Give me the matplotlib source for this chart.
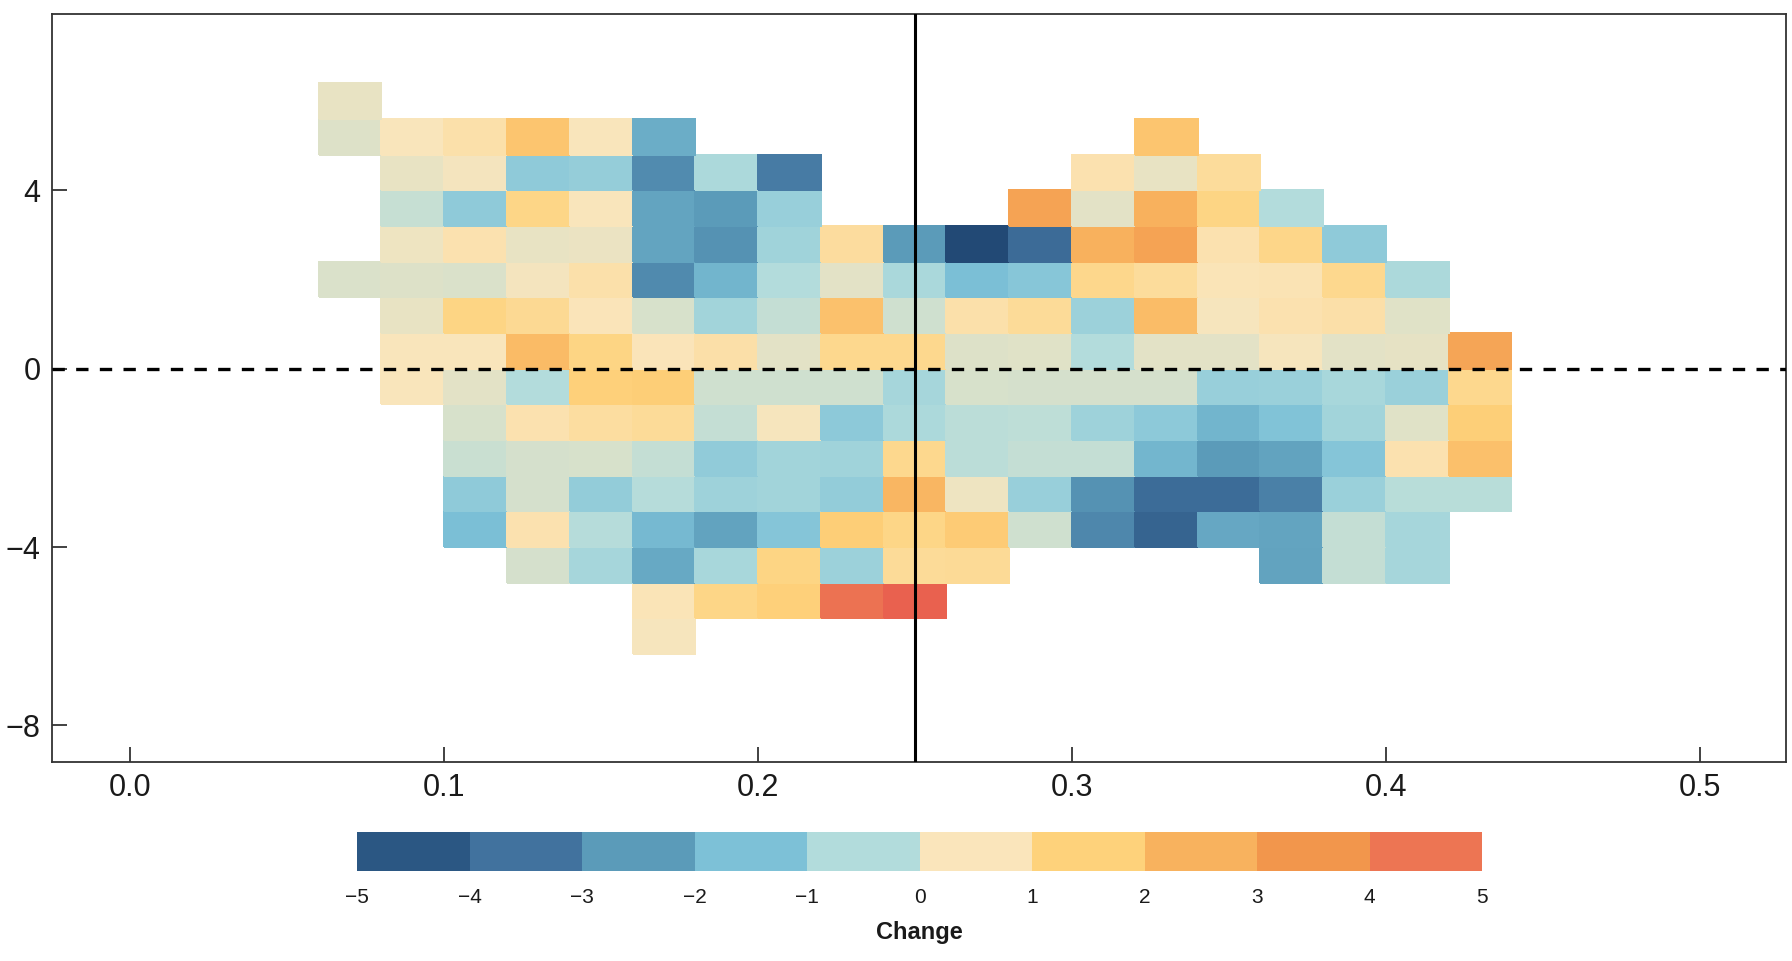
import numpy as np
import matplotlib
matplotlib.use("Agg")
import matplotlib.pyplot as plt
from matplotlib.colors import LinearSegmentedColormap, ListedColormap, BoundaryNorm, Normalize
from matplotlib.cm import ScalarMappable

plt.rcParams['font.family'] = ['Liberation Sans', 'DejaVu Sans']

# ---------------- data ----------------
# bin edges
x_edges = np.round(np.arange(0.06, 0.4401, 0.02), 2)   # 19 columns, 0.06 .. 0.44
y_edges = np.round(np.arange(-6.4, 6.401, 0.8), 2)     # 16 rows, -6.4 .. 6.4

N = None
# rows listed from top (5.6..6.4) to bottom (-6.4..-5.6); columns 0.06 .. 0.42
row_5p6 = [0.26, N, N, N, N, N, N, N, N, N, N, N, N, N, N, N, N, N, N]
row_4p8 = [0.1, 0.5, 0.77, 1.9, 0.5, -2.03, N, N, N, N, N, N, N, 1.9, N, N, N, N, N]
row_4p0 = [N, 0.25, 0.4, -1.16, -1.03, -2.88, -0.61, -3.27, N, N, N, N, 0.7, 0.25, 0.98, N, N, N, N]
row_3p2 = [N, -0.22, -1.16, 1.3, 0.5, -2.26, -2.5, -0.99, N, N, N, 3.04, 0.19, 2.5, 1.33, -0.5, N, N, N]
row_2p4 = [N, 0.32, 0.7, 0.25, 0.31, -2.26, -2.73, -0.84, 0.95, -2.5, -4.9, -3.73, 2.5, 3.04, 0.7, 1.28, -1.16, N, N]
row_1p6 = [0.04, 0.08, 0.04, 0.4, 0.77, -2.92, -1.82, -0.5, 0.19, -0.65, -1.54, -1.31, 1.23, 1.0, 0.58, 0.61, 1.19, -0.61, N]
row_0p8 = [N, 0.25, 1.34, 1.13, 0.53, 0.03, -0.82, -0.25, 2.03, -0.08, 0.77, 1.03, -0.92, 2.16, 0.44, 0.7, 0.8, 0.14, N]
row_0p0 = [N, 0.5, 0.5, 2.22, 1.34, 0.53, 0.8, 0.17, 1.19, 1.19, 0.08, 0.15, -0.5, 0.19, 0.19, 0.46, 0.19, 0.22, 2.96]
row_m0p8 = [N, 0.5, 0.18, -0.5, 1.55, 1.63, -0.1, -0.1, -0.1, -0.71, 0.03, -0.01, -0.01, -0.01, -0.99, -0.95, -0.69, -0.97, 1.19]
row_m1p6 = [N, N, 0.03, 0.67, 0.92, 1.05, -0.24, 0.44, -1.18, -0.61, -0.36, -0.33, -0.86, -1.18, -1.82, -1.44, -0.79, 0.14, 1.59]
row_m2p4 = [N, N, -0.17, -0.01, 0.0, -0.24, -1.1, -0.79, -0.84, 1.19, -0.36, -0.24, -0.24, -1.79, -2.5, -2.29, -1.33, 0.7, 2.06]
row_m3p2 = [N, N, -1.16, -0.01, -1.07, -0.44, -0.86, -0.79, -1.08, 2.38, 0.32, -0.99, -2.73, -3.68, -3.68, -3.15, -0.94, -0.42, -0.42]
row_m4p0 = [N, N, -1.54, 0.67, -0.44, -1.71, -2.29, -1.33, 1.63, 1.31, 1.69, -0.1, -3.0, -4.0, -2.18, -2.24, -0.24, -0.73, N]
row_m4p8 = [N, N, N, -0.01, -0.71, -2.12, -0.69, 1.33, -0.92, 1.03, 1.08, N, N, N, N, -2.29, -0.24, -0.73, N]
row_m5p6 = [N, N, N, N, N, 0.55, 1.31, 1.56, 4.55, 4.9, N, N, N, N, N, N, N, N, N]
row_m6p4 = [N, N, N, N, N, 0.45, N, N, N, N, N, N, N, N, N, N, N, N, N]

rows_top_down = [row_5p6, row_4p8, row_4p0, row_3p2, row_2p4, row_1p6, row_0p8, row_0p0,
                 row_m0p8, row_m1p6, row_m2p4, row_m3p2, row_m4p0, row_m4p8, row_m5p6, row_m6p4]

x_ticks = [0.0, 0.1, 0.2, 0.3, 0.4, 0.5]
y_ticks = [-8, -4, 0, 4]
vline_x = 0.25
hline_y = 0.0

cb_bounds = [-5, -4, -3, -2, -1, 0, 1, 2, 3, 4, 5]
cb_colors = ['#2b5783', '#41729e', '#5b9bb9', '#7dc1d7', '#b2dcdc',
             '#fae5bb', '#fed27b', '#f8b25e', '#f2964c', '#ed7553']
grad_pos = [-5, -4.5, -3.5, -2.5, -1.5, -0.5, 0.5, 1.5, 2.5, 3.5, 4.5, 5]
grad_cols = ['#204672'] + cb_colors + ['#e85d4e']
cb_label = 'Change'

# ---------------- plot ----------------
Z = np.array([[np.nan if v is None else v for v in r] for r in rows_top_down[::-1]], dtype=float)
Z = np.ma.masked_invalid(Z)

cmap = LinearSegmentedColormap.from_list(
    'chg', [((p + 5) / 10.0, c) for p, c in zip(grad_pos, grad_cols)])

fig = plt.figure(figsize=(17.92, 9.61), dpi=100)
ax = fig.add_axes([0.0289, 0.2071, 0.9678, 0.7783])

ax.pcolormesh(x_edges, y_edges, Z, cmap=cmap, norm=Normalize(-5, 5),
              shading='flat', edgecolors='face', linewidth=0.3)

ax.axvline(vline_x, color='black', lw=2.2, zorder=3)
ax.axhline(hline_y, color='black', lw=2.4, linestyle=(0, (3.7, 3.4)), zorder=3)

ax.set_xlim(-0.025, 0.5275)
ax.set_ylim(-8.82, 7.95)
ax.set_xticks(x_ticks)
ax.set_yticks(y_ticks)
for s in ax.spines.values():
    s.set_color('#333333')
    s.set_linewidth(1.3)
ax.tick_params(axis='both', direction='in', length=10.5, width=1.3, color='#333333',
               labelsize=22, labelcolor='#1a1a1a', pad=8)

cax = fig.add_axes([0.1992, 0.0937, 0.628, 0.0406])
sm = ScalarMappable(norm=BoundaryNorm(cb_bounds, len(cb_colors)), cmap=ListedColormap(cb_colors))
cb = fig.colorbar(sm, cax=cax, orientation='horizontal', ticks=cb_bounds)
cb.outline.set_visible(False)
cax.tick_params(length=0, labelsize=15, pad=12, labelcolor='#1a1a1a')
cb.set_label(cb_label, fontsize=17, fontweight='bold', labelpad=10, color='#1a1a1a')

fig.savefig('out.png', dpi=100)
